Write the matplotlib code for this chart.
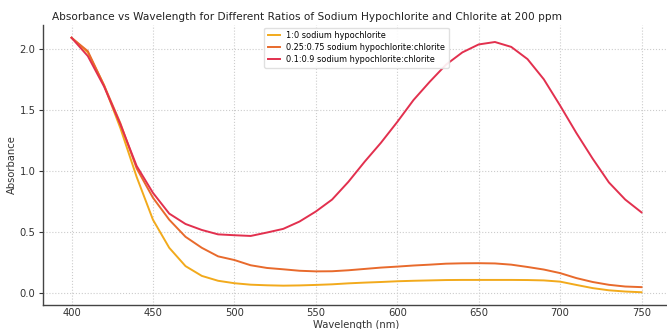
import matplotlib
matplotlib.use("Agg")
import matplotlib.pyplot as plt

# wavelengths (nm), one reading every 10 nm
wavelength = list(range(400, 760, 10))

# absorbance
abs_hypo = [2.09, 1.97, 1.70, 1.35, 0.95, 0.60, 0.37, 0.22, 0.14, 0.10, 0.08, 0.068,
            0.063, 0.060, 0.062, 0.066, 0.071, 0.079, 0.085, 0.090, 0.096, 0.100,
            0.103, 0.106, 0.107, 0.107, 0.107, 0.107, 0.106, 0.103, 0.093, 0.066,
            0.040, 0.022, 0.012, 0.006]
abs_025 = [2.09, 1.98, 1.70, 1.39, 1.02, 0.78, 0.60, 0.46, 0.37, 0.30, 0.27, 0.227,
           0.205, 0.194, 0.182, 0.177, 0.178, 0.186, 0.197, 0.208, 0.216, 0.225,
           0.232, 0.240, 0.243, 0.244, 0.242, 0.232, 0.213, 0.192, 0.163, 0.122,
           0.090, 0.067, 0.053, 0.048]
abs_01 = [2.09, 1.94, 1.69, 1.38, 1.04, 0.82, 0.65, 0.565, 0.516, 0.48, 0.473, 0.467,
          0.495, 0.525, 0.585, 0.667, 0.765, 0.91, 1.075, 1.23, 1.40, 1.58,
          1.73, 1.87, 1.97, 2.035, 2.055, 2.015, 1.915, 1.75, 1.535, 1.31,
          1.10, 0.905, 0.765, 0.66]

labels = ["1:0 sodium hypochlorite",
          "0.25:0.75 sodium hypochlorite:chlorite",
          "0.1:0.9 sodium hypochlorite:chlorite"]
colors = ["#f2aa1c", "#e86a2c", "#e2304e"]

fig = plt.figure(figsize=(6.67, 3.29), dpi=100)
ax = fig.add_axes([0.0645, 0.073, 0.940, 0.851])

for ys, lab, c in zip([abs_hypo, abs_025, abs_01], labels, colors):
    ax.plot(wavelength, ys, color=c, lw=1.4, label=lab)

# title sits a bit left of the axes centre in the reference
fig.text(0.461, 0.948, "Absorbance vs Wavelength for Different Ratios of Sodium Hypochlorite and Chlorite at 200 ppm",
         fontsize=7.6, color="#222222", ha="center", va="center")
ax.set_xlabel("Wavelength (nm)", fontsize=7.2, color="#333333", labelpad=1)
ax.set_ylabel("Absorbance", fontsize=7.2, color="#333333", labelpad=2)

ax.set_xticks([400, 450, 500, 550, 600, 650, 700, 750])
ax.set_yticks([0.0, 0.5, 1.0, 1.5, 2.0])
ax.tick_params(labelsize=7.2, colors="#333333", width=0.8)
ax.tick_params(axis="x", length=0, pad=2.5)
ax.tick_params(axis="y", length=3, pad=2.5)

ax.grid(True, linestyle=":", color="#cccccc", lw=0.8)
for s in ["top", "right"]:
    ax.spines[s].set_visible(False)
for s in ["left", "bottom"]:
    ax.spines[s].set_color("#444444")
    ax.spines[s].set_linewidth(1.0)

ax.legend(loc="upper center", fontsize=5.85, frameon=True, framealpha=0.9,
          edgecolor="#dddddd", handlelength=1.4, borderpad=0.45, labelspacing=0.35,
          bbox_to_anchor=(0.5, 1.005))

fig.savefig("out.png", dpi=100)
